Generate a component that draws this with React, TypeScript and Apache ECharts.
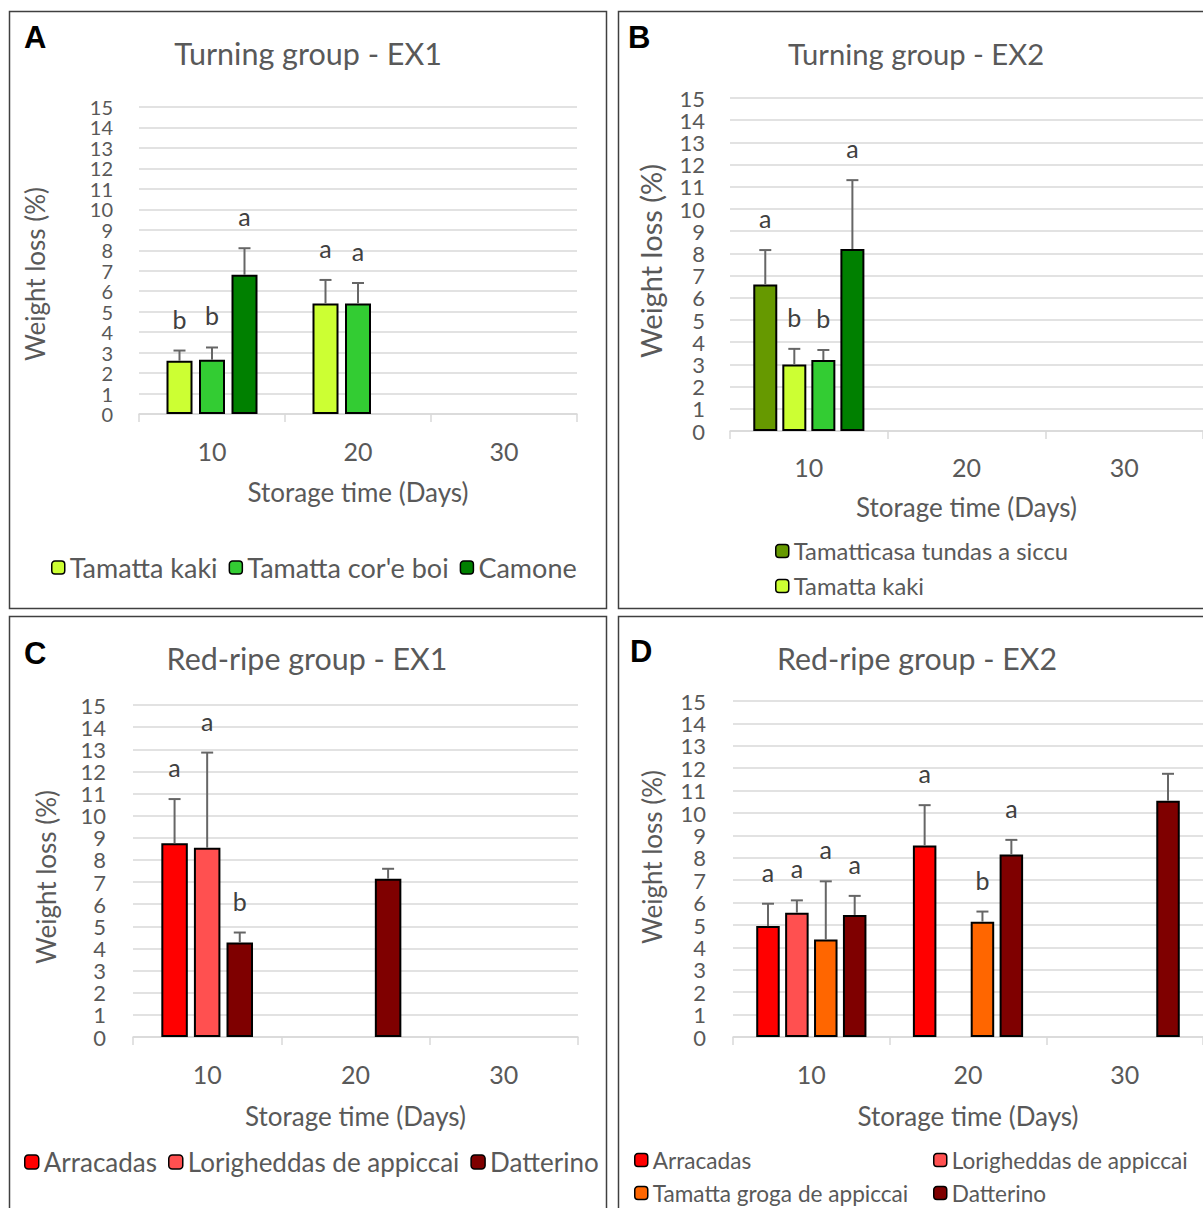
import React, { useEffect, useRef } from "react";
import * as echarts from "echarts";

// ---------- data ----------
const days = ["10", "20", "30"];
const yTicks = [0, 15, 1]; // min, max, interval

// Panel A – Turning group EX1
const kakiA = [2.6, 5.4, null];
const kakiAErr = [0.5, 1.15, null];
const kakiALetters = ["b", "a", ""];
const coreboiA = [2.65, 5.4, null];
const coreboiAErr = [0.6, 1.0, null];
const coreboiALetters = ["b", "a", ""];
const camoneA = [6.8, null, null];
const camoneAErr = [1.3, null, null];
const camoneALetters = ["a", "", ""];

// Panel B – Turning group EX2
const tamatticasaB = [6.6, null, null];
const tamatticasaBErr = [1.55, null, null];
const tamatticasaBLetters = ["a", "", ""];
const kakiB = [3.0, null, null];
const kakiBErr = [0.7, null, null];
const kakiBLetters = ["b", "", ""];
const coreboiB = [3.2, null, null];
const coreboiBErr = [0.45, null, null];
const coreboiBLetters = ["b", "", ""];
const camoneB = [8.2, null, null];
const camoneBErr = [3.1, null, null];
const camoneBLetters = ["a", "", ""];

// Panel C – Red-ripe group EX1
const arracadasC = [8.75, null, null];
const arracadasCErr = [2.0, null, null];
const arracadasCLetters = ["a", "", ""];
const lorigheddasC = [8.55, null, null];
const lorigheddasCErr = [4.3, null, null];
const lorigheddasCLetters = ["a", "", ""];
const datterinoC = [4.27, 7.15, null];
const datterinoCErr = [0.45, 0.45, null];
const datterinoCLetters = ["b", "", ""];

// Panel D – Red-ripe group EX2
const arracadasD = [4.95, 8.55, null];
const arracadasDErr = [1.0, 1.8, null];
const arracadasDLetters = ["a", "a", ""];
const lorigheddasD = [5.55, null, null];
const lorigheddasDErr = [0.55, null, null];
const lorigheddasDLetters = ["a", "", ""];
const grogaD = [4.35, 5.15, null];
const grogaDErr = [2.6, 0.45, null];
const grogaDLetters = ["a", "b", ""];
const datterinoD = [5.45, 8.15, 10.55];
const datterinoDErr = [0.85, 0.65, 1.2];
const datterinoDLetters = ["a", "a", ""];

const titles = ["Turning group - EX1", "Turning group - EX2", "Red-ripe group - EX1", "Red-ripe group - EX2"];
const panelLetters = ["A", "B", "C", "D"];
const yName = "Weight loss (%)";
const xName = "Storage time (Days)";

// ---------- styles ----------
const FONT = "Lato, 'Open Sans', sans-serif";
const TXT = "#595959";
const GRIDC = "#d9d9d9";
const C_KAKI = "#ccff33";
const C_COREBOI = "#33cc33";
const C_CAMONE = "#008000";
const C_TAMATT = "#669900";
const C_ARR = "#ff0000";
const C_LOR = "#ff5050";
const C_GROGA = "#ff6600";
const C_DATT = "#7f0000";

type S = { name: string; color: string; values: (number | null)[]; errors: (number | null)[]; letters: string[] };

const panels = [
  {
    grid: { left: 139, top: 107, width: 438, height: 307 },
    bw: 26, gap: 0.25,
    series: [
      { name: "Tamatta kaki", color: C_KAKI, values: kakiA, errors: kakiAErr, letters: kakiALetters },
      { name: "Tamatta cor'e boi", color: C_COREBOI, values: coreboiA, errors: coreboiAErr, letters: coreboiALetters },
      { name: "Camone", color: C_CAMONE, values: camoneA, errors: camoneAErr, letters: camoneALetters },
    ] as S[],
  },
  {
    grid: { left: 730, top: 98, width: 476, height: 333 },
    bw: 24, gap: 0.21,
    series: [
      { name: "Tamatticasa tundas a siccu", color: C_TAMATT, values: tamatticasaB, errors: tamatticasaBErr, letters: tamatticasaBLetters },
      { name: "Tamatta kaki", color: C_KAKI, values: kakiB, errors: kakiBErr, letters: kakiBLetters },
      { name: "Tamatta cor'e boi", color: C_COREBOI, values: coreboiB, errors: coreboiBErr, letters: coreboiBLetters },
      { name: "Camone", color: C_CAMONE, values: camoneB, errors: camoneBErr, letters: camoneBLetters },
    ] as S[],
  },
  {
    grid: { left: 133, top: 705, width: 445, height: 332 },
    bw: 26.5, gap: 0.23,
    series: [
      { name: "Arracadas", color: C_ARR, values: arracadasC, errors: arracadasCErr, letters: arracadasCLetters },
      { name: "Lorigheddas de appiccai", color: C_LOR, values: lorigheddasC, errors: lorigheddasCErr, letters: lorigheddasCLetters },
      { name: "Datterino", color: C_DATT, values: datterinoC, errors: datterinoCErr, letters: datterinoCLetters },
    ] as S[],
  },
  {
    grid: { left: 733, top: 701, width: 475, height: 336 },
    bw: 23.5, gap: 0.23,
    series: [
      { name: "Arracadas", color: C_ARR, values: arracadasD, errors: arracadasDErr, letters: arracadasDLetters },
      { name: "Lorigheddas de appiccai", color: C_LOR, values: lorigheddasD, errors: lorigheddasDErr, letters: lorigheddasDLetters },
      { name: "Tamatta groga de appiccai", color: C_GROGA, values: grogaD, errors: grogaDErr, letters: grogaDLetters },
      { name: "Datterino", color: C_DATT, values: datterinoD, errors: datterinoDErr, letters: datterinoDLetters },
    ] as S[],
  },
];

const axisLabelMargins = [24, 23, 24, 24];
const xNameGaps = [65, 63, 66, 66];
const yLabelMargins = [26, 25, 27, 27];
const yLabelSizes = [20, 22, 22, 22];
const yNamePos = [[35, 274, 26], [650, 261, 29], [46, 877, 26], [652, 857, 26]];
const titlePos = [[308, 53], [916, 53], [307, 658], [917, 658]];
const titleSizes = [30.5, 29.2, 30.4, 30.3];
const letterPos = [[24, 37], [628, 37], [24, 653], [630, 651]];

function buildOption() {
  const grid: any[] = [];
  const xAxis: any[] = [];
  const yAxis: any[] = [];
  const series: any[] = [];
  panels.forEach((p, pi) => {
    grid.push({ ...p.grid });
    xAxis.push({
      type: "category", gridIndex: pi, data: days,
      name: xName, nameLocation: "middle", nameGap: xNameGaps[pi],
      nameTextStyle: { fontSize: 26, color: TXT, fontFamily: FONT, lineHeight: 26 },
      axisLine: { lineStyle: { color: GRIDC, width: 1.5 } },
      axisTick: { show: true, length: 8, lineStyle: { color: GRIDC, width: 1.5 } },
      axisLabel: { fontSize: 25, color: TXT, fontFamily: FONT, margin: axisLabelMargins[pi], lineHeight: 25 },
      splitLine: { show: false },
    });
    yAxis.push({
      type: "value", gridIndex: pi, min: yTicks[0], max: yTicks[1], interval: yTicks[2],
      axisLine: { show: false }, axisTick: { show: false },
      axisLabel: {
        fontSize: yLabelSizes[pi], color: TXT, fontFamily: FONT, margin: yLabelMargins[pi],
        lineHeight: yLabelSizes[pi], showMinLabel: true, showMaxLabel: true,
      },
      splitLine: { lineStyle: { color: GRIDC, width: 1.5 } },
    });
    const n = p.series.length;
    const pitch = p.bw * (1 + p.gap);
    p.series.forEach((s, si) => {
      series.push({
        type: "bar", name: s.name, xAxisIndex: pi, yAxisIndex: pi,
        data: s.values.map((v) => (v == null ? "-" : v)),
        barWidth: p.bw, barGap: Math.round(p.gap * 100) + "%",
        itemStyle: { color: s.color, borderColor: "#000", borderWidth: 2 },
        z: 2,
      });
      const offset = (si - (n - 1) / 2) * pitch;
      series.push({
        type: "custom", xAxisIndex: pi, yAxisIndex: pi, z: 5,
        data: s.values.map((v, i) => [i, v == null ? 0 : v, s.errors[i] == null ? 0 : s.errors[i]]),
        renderItem: (params: any, api: any) => {
          const idx = params.dataIndex;
          const v = s.values[idx];
          if (v == null) return { type: "group", children: [] };
          const e = s.errors[idx] || 0;
          const base = api.coord([idx, v]);
          const top = api.coord([idx, v + e]);
          const x = base[0] + offset;
          const children: any[] = [
            { type: "line", shape: { x1: x, y1: base[1], x2: x, y2: top[1] }, style: { stroke: "#666", lineWidth: 2 } },
            { type: "line", shape: { x1: x - 6, y1: top[1], x2: x + 6, y2: top[1] }, style: { stroke: "#666", lineWidth: 2 } },
          ];
          const letter = s.letters[idx];
          if (letter) {
            children.push({
              type: "text", x, y: top[1] - 32,
              style: { text: letter, align: "center", verticalAlign: "middle", fill: "#404040", fontSize: 25, fontFamily: FONT },
            });
          }
          return { type: "group", children };
        },
      });
    });
  });

  const legendText = (size: number) => ({ fontSize: size, color: TXT, fontFamily: FONT, lineHeight: 24 });
  const legIcon = { borderWidth: 1.5, borderColor: "#000" };
  const legend: any[] = [
    { data: ["Tamatta kaki", "Tamatta cor'e boi", "Camone"], left: 51, top: 554, itemWidth: 13, itemHeight: 13, itemGap: 11, textStyle: legendText(27), itemStyle: legIcon, padding: 0 },
    { data: ["Tamatticasa tundas a siccu", "Tamatta kaki"], orient: "vertical", left: 775, top: 539, itemWidth: 13, itemHeight: 13, itemGap: 11, textStyle: legendText(23.8), itemStyle: legIcon, padding: 0 },
    { data: ["Arracadas", "Lorigheddas de appiccai", "Datterino"], left: 24, top: 1149, itemWidth: 14, itemHeight: 14, itemGap: 11, textStyle: legendText(26), itemStyle: legIcon, padding: 0 },
    { data: ["Arracadas", "Tamatta groga de appiccai"], orient: "vertical", left: 634, top: 1148, itemWidth: 13, itemHeight: 13, itemGap: 9, textStyle: legendText(22.6), itemStyle: legIcon, padding: 0 },
    { data: ["Lorigheddas de appiccai", "Datterino"], orient: "vertical", left: 933, top: 1148, itemWidth: 13, itemHeight: 13, itemGap: 9, textStyle: legendText(22.6), itemStyle: legIcon, padding: 0 },
  ];

  const graphic: any[] = [
    { type: "rect", shape: { x: 9.5, y: 11.5, width: 597, height: 597 }, style: { fill: "none", stroke: "#404040", lineWidth: 1.5 }, silent: true },
    { type: "rect", shape: { x: 618.5, y: 11.5, width: 610, height: 597 }, style: { fill: "none", stroke: "#404040", lineWidth: 1.5 }, silent: true },
    { type: "rect", shape: { x: 9.5, y: 616.5, width: 597, height: 610 }, style: { fill: "none", stroke: "#404040", lineWidth: 1.5 }, silent: true },
    { type: "rect", shape: { x: 618.5, y: 616.5, width: 610, height: 610 }, style: { fill: "none", stroke: "#404040", lineWidth: 1.5 }, silent: true },
  ];
  titles.forEach((t, i) => {
    graphic.push({ type: "text", x: titlePos[i][0], y: titlePos[i][1], style: { text: t, align: "center", verticalAlign: "middle", fill: TXT, fontSize: titleSizes[i], fontFamily: FONT } });
  });
  panelLetters.forEach((t, i) => {
    graphic.push({ type: "text", x: letterPos[i][0], y: letterPos[i][1], style: { text: t, align: "left", verticalAlign: "middle", fill: "#000", fontSize: 31, fontWeight: "bold", fontFamily: "'Liberation Sans', Arial, sans-serif" } });
  });
  yNamePos.forEach((pos, i) => {
    graphic.push({ type: "text", x: pos[0], y: pos[1], rotation: Math.PI / 2, style: { text: yName, align: "center", verticalAlign: "middle", fill: TXT, fontSize: pos[2], fontFamily: FONT } });
  });

  return { animation: false, backgroundColor: "#ffffff", grid, xAxis, yAxis, series, legend, graphic };
}

export default function App() {
  const ref = useRef<HTMLDivElement>(null);
  useEffect(() => {
    if (!ref.current) return;
    const chart = echarts.init(ref.current, null, { renderer: "svg" });
    chart.setOption(buildOption());
    return () => chart.dispose();
  }, []);
  return <div ref={ref} style={{ position: "absolute", left: 0, top: 0, width: 1203, height: 1208 }} />;
}
